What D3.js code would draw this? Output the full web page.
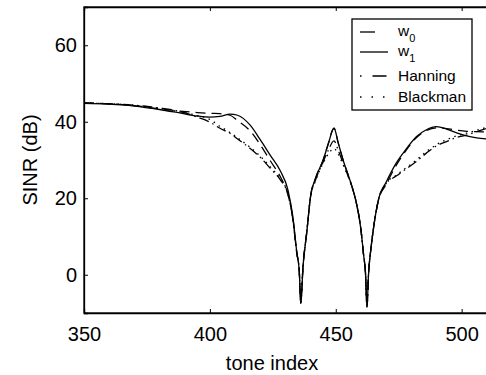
<!DOCTYPE html>
<html>
<head>
<meta charset="utf-8">
<script src="https://cdn.jsdelivr.net/npm/d3@7"></script>
<style>
	body { margin: 0; background: #fff; }
	svg { display: block; font-family: "Liberation Sans", Arial, Helvetica, sans-serif; }
</style>
</head>
<body>
<script>
const tones = [350, 360, 370, 380, 388, 395, 400, 404, 408, 411, 416, 420, 424, 428, 431,
	433, 434.5, 435.5, 436.1, 437, 438.5, 440, 442, 445, 447, 449.3, 451, 453, 456, 458,
	460, 461, 461.8, 462.4, 463, 464, 465, 467, 470, 474, 478, 482, 486, 490, 494,
	498, 502, 506, 510];

// SINR in dB for each weighting
const w0 = [44.9, 44.7, 44.2, 43.4, 42.8, 42.4, 42.2, 42.1, 41.7, 40.3, 37.6, 34.0, 29.8, 25.6, 21.0,
	14.5, 5.8, 1.0, -7.4, 2.2, 11.2, 20.6, 25.3, 30.0, 34.2, 38.3, 34.4, 29.8, 24.0, 19.3,
	11.8, 5.5, 0.5, -8.4, 0.0, 7.0, 12.2, 19.6, 23.6, 28.6, 32.6, 35.8, 37.7, 38.4, 38.2,
	37.8, 37.5, 37.4, 37.3];
const w1 = [44.8, 44.6, 44.1, 43.2, 42.3, 41.5, 41.2, 41.4, 42.0, 41.7, 39.1, 35.3, 31.2, 27.1, 22.2,
	15.0, 6.0, 1.0, -7.4, 2.2, 11.2, 20.6, 25.3, 30.0, 34.2, 38.3, 34.4, 29.8, 24.0, 19.3,
	11.8, 5.5, 0.5, -8.4, 0.0, 7.0, 12.2, 19.8, 24.2, 29.2, 32.9, 36.1, 37.9, 38.7, 38.1,
	37.1, 36.3, 35.8, 35.5];
const hanning = [44.9, 44.7, 44.3, 43.6, 42.7, 41.2, 39.9, 38.3, 37.0, 35.5, 33.0, 30.7, 27.8, 24.8, 21.0,
	14.2, 5.8, 1.0, -7.4, 2.2, 11.2, 20.4, 24.8, 29.5, 32.5, 35.0, 32.5, 29.0, 23.8, 19.3,
	11.8, 5.5, 0.5, -8.4, 0.0, 7.0, 12.2, 19.6, 23.8, 25.8, 27.7, 29.6, 31.8, 33.7, 34.8,
	35.9, 36.5, 37.4, 38.3];
const blackman = [44.9, 44.7, 44.3, 43.5, 42.6, 41.6, 40.6, 38.8, 37.2, 35.8, 33.3, 31.0, 28.2, 25.0, 21.2,
	14.2, 5.8, 1.0, -7.4, 2.2, 11.2, 20.4, 24.6, 29.2, 31.5, 33.0, 31.5, 28.6, 23.8, 19.3,
	11.8, 5.5, 0.5, -8.4, 0.0, 7.0, 12.2, 19.6, 23.9, 26.0, 28.0, 30.0, 32.2, 34.0, 35.3,
	36.3, 37.0, 37.8, 38.6];

const xTicks = [350, 400, 450, 500];
const yTicks = [0, 20, 40, 60];
const seriesNames = ["w0", "w1", "Hanning", "Blackman"];

//width and height of svg
const width = 486;
const height = 375;
const plot = {left: 84, top: 7, right: 512, bottom: 313};

const x = d3.scaleLinear().domain([350, 520]).range([plot.left, plot.right]);
const y = d3.scaleLinear().domain([-10, 70]).range([plot.bottom, plot.top]);

// line styles, matlab-ish
const styles = [
	{dash: "10,6", legendDash: "15,20"},
	{dash: null, legendDash: null},
	{dash: "10,4,1.5,4", legendDash: "1.5,11,14,10"},
	{dash: "1.5,4.5", legendDash: "1.5,10"}
];
const series = [w0, w1, hanning, blackman].map((vals, i) => ({
	name: seriesNames[i],
	style: styles[i],
	points: tones.map((t, j) => [t, vals[j]])
}));

const svg = d3.select("body").append("svg")
	.attr("width", width)
	.attr("height", height);

svg.append("defs").append("clipPath").attr("id", "clip")
	.append("rect")
	.attr("x", plot.left).attr("y", plot.top)
	.attr("width", plot.right - plot.left).attr("height", plot.bottom - plot.top);

// curves
const line = d3.line()
	.x(d => x(d[0]))
	.y(d => y(d[1]))
	.curve(d3.curveMonotoneX);

svg.append("g").attr("clip-path", "url(#clip)")
	.selectAll("path")
	.data(series)
	.join("path")
	.attr("d", s => line(s.points))
	.attr("fill", "none")
	.attr("stroke", "#000")
	.attr("stroke-width", 1.3)
	.attr("stroke-dasharray", s => s.style.dash);

// axes with inward ticks on all four sides
const tickLen = 4;
const bottomAxis = d3.axisBottom(x).tickValues(xTicks).tickSize(-tickLen).tickPadding(10);
const leftAxis = d3.axisLeft(y).tickValues(yTicks).tickSize(-tickLen).tickPadding(7);

const gx = svg.append("g").attr("transform", `translate(0,${plot.bottom})`).call(bottomAxis);
const gy = svg.append("g").attr("transform", `translate(${plot.left},0)`).call(leftAxis);
svg.append("g").attr("transform", `translate(0,${plot.top})`)
	.call(d3.axisTop(x).tickValues(xTicks).tickSize(-tickLen).tickFormat(""));
svg.append("g").attr("transform", `translate(${plot.right},0)`)
	.call(d3.axisRight(y).tickValues(yTicks).tickSize(-tickLen).tickFormat(""));

svg.selectAll(".domain").attr("stroke", "#000").attr("stroke-width", 1.3);
svg.selectAll(".tick line").attr("stroke", "#000");
svg.selectAll(".tick text")
	.attr("fill", "#000")
	.style("font-size", "20px")
	.style("font-family", "'Liberation Sans', Arial, sans-serif");
gx.selectAll(".tick text").attr("dy", "0.9em");

// box outline (domain paths have end caps, draw the frame explicitly)
svg.append("rect")
	.attr("x", plot.left).attr("y", plot.top)
	.attr("width", plot.right - plot.left).attr("height", plot.bottom - plot.top)
	.attr("fill", "none").attr("stroke", "#000").attr("stroke-width", 1.3);

// axis labels
svg.append("text")
	.attr("x", (plot.left + plot.right) / 2 - 26)
	.attr("y", 370)
	.attr("text-anchor", "middle")
	.style("font-size", "20px")
	.text("tone index");

svg.append("text")
	.attr("transform", `translate(37,${(plot.top + plot.bottom) / 2}) rotate(-90)`)
	.attr("text-anchor", "middle")
	.style("font-size", "20px")
	.text("SINR (dB)");

// legend
const legend = svg.append("g");
legend.append("rect")
	.attr("x", 352).attr("y", 19)
	.attr("width", 120).attr("height", 91)
	.attr("fill", "#fff").attr("stroke", "#000").attr("stroke-width", 1.3);

const rowY = [32, 52, 76, 97];
const entry = legend.selectAll("g.entry")
	.data(series)
	.join("g")
	.attr("class", "entry")
	.attr("transform", (s, i) => `translate(0,${rowY[i]})`);

entry.append("line")
	.attr("x1", 360).attr("x2", 388)
	.attr("stroke", "#000").attr("stroke-width", 1.3)
	.attr("stroke-dasharray", s => s.style.legendDash);

const label = entry.append("text")
	.attr("x", 398)
	.attr("y", 5)
	.style("font-size", "15.5px");
label.each(function (s) {
	const t = d3.select(this);
	if (s.name[0] === "w") {
		t.attr("y", 4);
		t.append("tspan").text("w");
		t.append("tspan").attr("dy", 6).style("font-size", "11px").text(s.name.slice(1));
	} else {
		t.text(s.name);
	}
});
</script>
</body>
</html>
